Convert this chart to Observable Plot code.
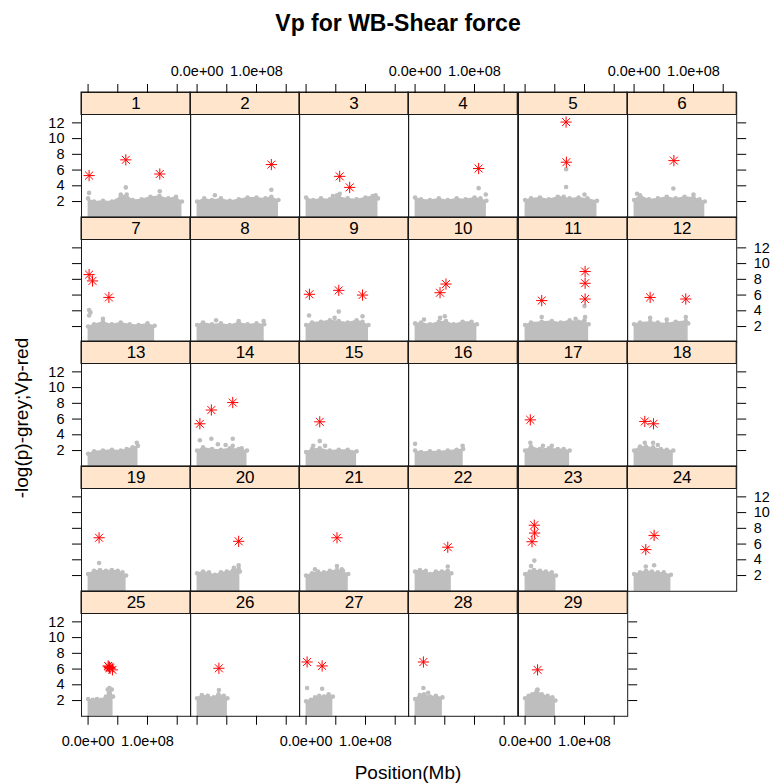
<!DOCTYPE html>
<html>
<head>
<meta charset="utf-8">
<script src="https://cdn.jsdelivr.net/npm/d3@7"></script>
<script src="https://cdn.jsdelivr.net/npm/@observablehq/plot@0.6"></script>
<style>
  body { margin: 0; background: white; font-family: "Liberation Sans", Arial, sans-serif; }
  #root { position: relative; width: 771px; height: 783px; overflow: hidden; background: white; }
  .panel { position: absolute; }
  .panel svg { max-width: none !important; display: block; }
  .lbl { position: absolute; color: #000; white-space: nowrap; }
</style>
</head>
<body>
<div id="root"></div>
<script>
// ---------------- data ----------------
const chroms = ["1","2","3","4","5","6","7","8","9","10","11","12","13","14","15","16","17","18","19","20","21","22","23","24","25","26","27","28","29"];

// top edge of the dense grey cloud of -log(p) values: [position (Mb), height]
const cloudTops = [
  [[0,2.4],[10,2.0],[25,2.1],[40,2.0],[55,2.6],[65,2.9],[75,2.2],[90,2.3],[105,2.6],[120,2.7],[135,2.4],[148,2.6],[158,2.0]],
  [[0,2.0],[12,2.4],[25,2.2],[40,2.4],[55,2.1],[70,2.3],[85,2.5],[100,2.5],[115,2.4],[125,2.6],[137,2.2]],
  [[0,2.5],[12,2.2],[25,2.4],[40,2.3],[55,2.6],[70,2.4],[85,2.3],[100,2.5],[112,2.7],[121,2.4]],
  [[0,2.5],[10,2.3],[25,2.2],[40,2.4],[55,2.2],[70,2.4],[85,2.3],[100,2.5],[110,2.4],[120,2.1]],
  [[0,2.2],[10,2.4],[25,2.5],[40,2.3],[55,2.6],[65,2.6],[75,2.4],[90,2.5],[105,2.4],[121,2.1]],
  [[0,2.2],[10,2.8],[25,2.3],[40,2.4],[55,2.6],[70,2.4],[85,2.6],[100,2.5],[110,2.3],[119,2.0]],
  [[0,2.0],[10,2.3],[25,2.6],[40,2.3],[55,2.5],[70,2.3],[85,2.2],[100,2.4],[112,2.1]],
  [[0,2.2],[10,2.5],[25,2.3],[40,2.4],[55,2.2],[70,2.5],[85,2.3],[100,2.4],[113,2.3]],
  [[0,2.2],[10,2.5],[25,2.6],[40,2.8],[55,2.7],[70,2.5],[85,2.8],[95,2.6],[105,2.2]],
  [[0,2.4],[10,2.5],[25,2.3],[40,2.6],[52,2.7],[65,2.3],[80,2.6],[95,2.6],[104,2.3]],
  [[0,2.2],[10,2.5],[28,2.6],[45,2.7],[60,2.5],[75,2.8],[90,2.6],[100,2.8],[107,2.3]],
  [[0,2.3],[10,2.5],[27,2.6],[40,2.5],[55,2.4],[70,2.6],[87,2.7],[91,2.4]],
  [[0,1.6],[10,1.9],[25,2.0],[40,2.1],[55,2.0],[65,2.2],[75,2.4],[84,2.6]],
  [[0,2.0],[10,2.4],[25,2.2],[40,2.1],[55,2.3],[70,2.2],[84,2.0]],
  [[0,1.8],[10,2.2],[23,2.3],[40,2.0],[55,2.1],[70,2.1],[85,1.9]],
  [[0,2.0],[10,1.8],[25,1.9],[40,1.9],[55,2.0],[70,2.1],[81,2.2]],
  [[0,2.0],[10,2.5],[25,2.2],[40,2.3],[55,2.2],[65,2.2],[75,2.0]],
  [[0,2.0],[10,2.5],[20,2.5],[32,2.4],[45,2.2],[55,2.1],[66,2.0]],
  [[0,2.2],[10,2.6],[20,2.7],[30,2.6],[40,2.7],[50,2.6],[58,2.4],[64,2.0]],
  [[0,2.3],[10,2.5],[20,2.4],[30,2.1],[40,2.4],[50,2.5],[60,2.6],[70,2.9],[72,2.5]],
  [[0,2.0],[10,2.3],[20,2.5],[30,2.4],[40,2.6],[52,2.7],[62,2.6],[71,2.2]],
  [[0,2.5],[8,2.7],[18,2.6],[25,2.2],[35,2.5],[45,2.5],[55,2.6],[61,2.3]],
  [[0,2.2],[8,2.5],[15,2.7],[25,2.6],[35,2.5],[45,2.4],[52,2.0]],
  [[0,2.2],[10,2.4],[20,2.6],[30,2.5],[40,2.4],[50,2.4],[62,2.1]],
  [[0,2.2],[8,2.1],[15,2.2],[22,2.1],[30,2.5],[35,3.0],[40,3.4],[42,2.5]],
  [[0,2.3],[8,2.7],[18,2.6],[28,2.4],[36,2.8],[45,2.6],[51,2.3]],
  [[0,1.9],[8,2.1],[15,2.4],[22,2.6],[30,2.5],[38,2.8],[45,2.5]],
  [[0,2.2],[8,2.7],[15,2.8],[25,2.5],[35,2.6],[46,2.4]],
  [[0,2.3],[6,2.6],[12,2.8],[20,3.3],[28,2.8],[38,2.6],[46,2.4],[51,2.0]]
];

// isolated grey points above the cloud: [position (Mb), -log(p)]
const greyOutliers = [
  [[1.7,3.1],[63.5,3.8],[120.7,3.3],[55,2.9]],
  [[125,3.5],[30,2.8]],
  [[56.6,3.0],[52,2.8],[45,2.7],[117,2.8]],
  [[107,3.7],[119,2.9]],
  [[69,3.85],[69,6.1],[100,2.9]],
  [[66,3.65],[5,3.0],[100,2.9]],
  [[1.7,4.1],[4,3.8],[1.7,3.4],[25,3.0]],
  [[32,2.8],[70,2.7],[112,2.7]],
  [[55,3.9],[5,3.4],[95,3.3],[48,3.1]],
  [[42,3.1],[50,3.3],[15,2.9]],
  [[100,4.6],[28,3.2],[101,3.2],[85,3.0]],
  [[27,3.1],[87,3.2],[55,2.9]],
  [[82,3.0]],
  [[24,3.5],[60,3.5],[4.7,3.3],[35,2.8],[48,2.7],[60,2.6],[75,2.3]],
  [[23,3.2],[12,2.6],[32,2.6]],
  [[0,2.85],[80,2.6]],
  [[8.8,3.0],[30,2.6],[45,2.6]],
  [[18,3.0],[32,3.0],[40,2.7]],
  [[18.5,3.6]],
  [[70,3.3],[62,3.0]],
  [[52,3.2],[60,2.8],[15,2.8]],
  [[55,3.15]],
  [[15.5,3.9],[10,3.2]],
  [[19.7,3.15],[33.7,3.3]],
  [[36,3.6],[33,3.4]],
  [[36.7,3.35]],
  [[1.7,3.6],[27,3.5]],
  [[14,3.6],[22,3.0]],
  [[21,3.4]]
];

// red (Vp) significant hits: [position (Mb), -log(p)]
const vpHits = [
  [[1.7,5.3],[63.5,7.3],[120.7,5.5]],
  [[125,6.7]],
  [[56.6,5.2],[73.4,3.8]],
  [[107,6.2]],
  [[69,12.1],[69.5,7.0]],
  [[67,7.2]],
  [[1.7,8.6],[7.4,7.8],[35,5.7]],
  [],
  [[5.6,6.1],[55,6.6],[95,6.0]],
  [[42,6.3],[52,7.4]],
  [[28,5.3],[101,9.0],[101,7.5],[101,5.5]],
  [[27,5.7],[87,5.5]],
  [],
  [[4.7,5.4],[24,7.15],[60,8.1]],
  [[23,5.65]],
  [],
  [[8.8,5.9]],
  [[18,5.7],[32.7,5.4]],
  [[18.5,6.8]],
  [[70,6.35]],
  [[52,6.8]],
  [[55,5.6]],
  [[15.5,8.4],[16,7.4],[11.6,6.3]],
  [[19.7,5.3],[33.7,7.1]],
  [[33.7,6.4],[35,6.3],[37,6.1],[41,5.9],[36,6.2]],
  [[36.7,6.1]],
  [[1.7,6.9],[27,6.4]],
  [[14,6.9]],
  [[21,5.9]]
];

const xTicks = [0, 5e7, 1e8, 1.5e8];
const xTickLabels = ["0.0e+00", "", "1.0e+08", ""];
const yTicks = [2, 4, 6, 8, 10, 12];
const xDomain = [-1.11e7, 1.727e8];
const yMax = 13;

// ---------------- layout ----------------
const FONT = '"Liberation Sans", Arial, sans-serif';
const nCol = 6, nRow = 5;
const col0 = 80.7, colW = 109.2;
const row0 = 91.7, stripH = 22.5, panelH = 102.3, rowH = stripH + panelH;
const stripUnits = stripH * yMax / panelH;
const ML = 55, MR = 55, MT = 45, MB = 50;
const greyCol = "#bebebe", red = "#ff0000", frameCol = "#1a1a1a";

const root = document.getElementById("root");

function addLabel(text, css) {
  const d = document.createElement("div");
  d.className = "lbl";
  d.textContent = text;
  Object.assign(d.style, css);
  root.appendChild(d);
}

chroms.forEach((name, i) => {
  const c = i % nCol, r = Math.floor(i / nCol);
  const bottomRow = (r === nRow - 1);
  const lastInRow = (c === nCol - 1) || (i === chroms.length - 1);
  const cloud = cloudTops[i].map(([p, h]) => ({x: p * 1e6, y: h}));
  const outl = greyOutliers[i].map(([p, v]) => ({x: p * 1e6, y: v}));
  const hits = vpHits[i].map(([p, v]) => ({x: p * 1e6, y: v}));
  const fmtX = (show) => (d) => show ? xTickLabels[xTicks.indexOf(d)] : "";
  const fmtY = (show) => (d) => show ? String(d) : "";

  const marks = [
    Plot.areaY(cloud, {x: "x", y: "y", fill: greyCol, curve: "linear"}),
    Plot.dot(cloud, {x: "x", y: "y", r: 2.3, fill: greyCol}),
    Plot.dot(outl, {x: "x", y: "y", r: 2.3, fill: greyCol}),
    Plot.dot(hits, {x: "x", y: "y", r: 3.7, symbol: "plus", stroke: red, strokeWidth: 1}),
    Plot.dot(hits, {x: "x", y: "y", r: 3.7, symbol: "times", stroke: red, strokeWidth: 1}),
    Plot.rect([name], {x1: xDomain[0], x2: xDomain[1], y1: yMax, y2: yMax + stripUnits, fill: "#ffe5cc", stroke: frameCol, strokeWidth: 1}),
    Plot.text([name], {x: (xDomain[0] + xDomain[1]) / 2, y: yMax + stripUnits / 2, text: d => d, fontSize: 17, fill: "#000"}),
    Plot.frame({stroke: frameCol, strokeWidth: 1}),
    c === 0 ? Plot.axisY(yTicks, {anchor: "left", tickSize: 9, tickPadding: 8, tickFormat: fmtY(r % 2 === 0), label: null, fontSize: 14.5}) : null,
    lastInRow ? Plot.axisY(yTicks, {anchor: "right", tickSize: 9, tickPadding: 8, tickFormat: fmtY(r % 2 === 1), label: null, fontSize: 14.5}) : null,
    r === 0 ? Plot.axisX(xTicks, {anchor: "top", tickSize: 9, tickPadding: 7, tickFormat: fmtX(c % 2 === 1), label: null, fontSize: 14.5}) : null,
    bottomRow ? Plot.axisX(xTicks, {anchor: "bottom", tickSize: 9, tickPadding: 10, tickFormat: fmtX(c % 2 === 0), label: null, fontSize: 14.5}) : null
  ].filter(Boolean);

  const W = colW + ML + MR, H = rowH + MT + MB;
  const chart = Plot.plot({
    width: W,
    height: H,
    marginLeft: ML, marginRight: MR, marginTop: MT, marginBottom: MB,
    x: {domain: xDomain, axis: null},
    y: {domain: [0, yMax + stripUnits], axis: null},
    style: {background: "transparent", overflow: "visible", fontFamily: FONT, fontSize: "14.5px", color: "#000", maxWidth: "none"},
    marks
  });
  const wrap = document.createElement("div");
  wrap.className = "panel";
  wrap.style.left = (col0 + c * colW - ML) + "px";
  wrap.style.top = (row0 + r * rowH - MT) + "px";
  wrap.style.width = W + "px";
  wrap.style.height = H + "px";
  wrap.appendChild(chart);
  root.appendChild(wrap);
});

// titles
addLabel("Vp for WB-Shear force", {left: "198px", width: "400px", top: "10px", textAlign: "center", fontSize: "23px", fontWeight: "bold", fontFamily: FONT});
addLabel("Position(Mb)", {left: "208px", width: "400px", top: "762px", textAlign: "center", fontSize: "19px", fontFamily: FONT});
addLabel("-log(p)-grey;Vp-red", {left: "22px", top: "418px", fontSize: "19px", fontFamily: FONT, transform: "translate(-50%, -50%) rotate(-90deg)"});
</script>
</body>
</html>
